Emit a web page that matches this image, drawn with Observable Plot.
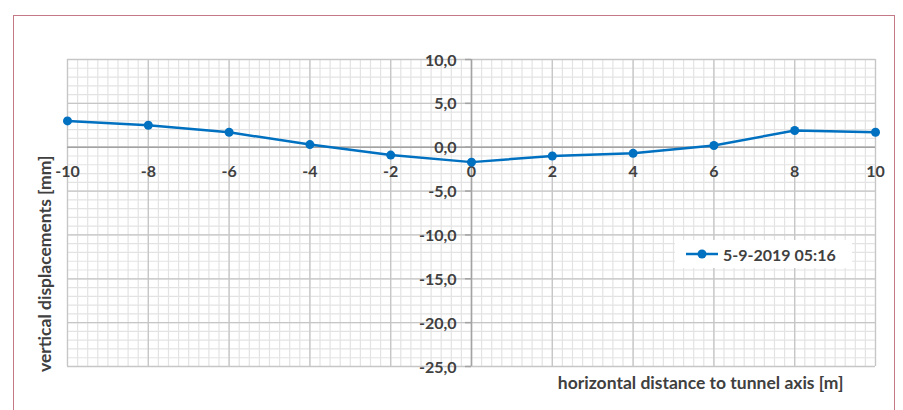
<!DOCTYPE html>
<html>
<head>
<meta charset="utf-8">
<script src="https://cdn.jsdelivr.net/npm/d3@7"></script>
<script src="https://cdn.jsdelivr.net/npm/@observablehq/plot@0.6"></script>
<style>
  html, body { margin: 0; padding: 0; background: #fff; }
  #wrap { position: relative; width: 903px; height: 410px; overflow: hidden; font-family: Lato, "Open Sans", sans-serif; }
  #frame { position: absolute; left: 13px; top: 15px; width: 882px; height: 420px; border: 1.5px solid #c47a86; box-sizing: border-box; pointer-events: none; }
  #legend { position: absolute; left: 675px; top: 240px; width: 177px; height: 28px; background: #fff; display: flex; align-items: center; font-weight: 700; font-size: 16px; color: #404040; }
  #legend svg { margin-left: 10px; margin-right: 4px; }
  #ytitle { position: absolute; left: 36px; top: 372px; transform-origin: 0 0; transform: rotate(-90deg); white-space: nowrap; font-weight: 700; font-size: 17.5px; color: #404040; line-height: 18px; }
  #chart { position: absolute; left: 0; top: 0; }
</style>
</head>
<body>
<div id="wrap">
  <div id="chart"></div>
  <div id="ytitle"></div>
  <div id="legend"><svg width="34" height="12"><line x1="1" y1="6" x2="33" y2="6" stroke="#0070c0" stroke-width="2.5"/><circle cx="17" cy="6" r="4.5" fill="#0070c0"/></svg><span id="legtext"></span></div>
  <div id="frame"></div>
</div>
<script>
const distances = [-10, -8, -6, -4, -2, 0, 2, 4, 6, 8, 10];
const displacements = [3.0, 2.5, 1.7, 0.3, -0.9, -1.7, -1.0, -0.7, 0.2, 1.9, 1.7];
const seriesName = "5-9-2019 05:16";
const xTicks = [-10, -8, -6, -4, -2, 0, 2, 4, 6, 8, 10];
const yTicks = [10, 5, 0, -5, -10, -15, -20, -25];
const xTitle = "horizontal distance to tunnel axis [m]";
const yTitle = "vertical displacements [mm]";

document.getElementById("ytitle").textContent = yTitle;
document.getElementById("legtext").textContent = seriesName;

const data = distances.map((x, i) => ({x, y: displacements[i]}));
const xMinor = d3.range(-10, 10.001, 0.25);
const yMinor = d3.range(-25, 10.001, 1);
const fmt = v => v.toFixed(1).replace(".", ",");
const textColor = "#404040";

const plot = Plot.plot({
  width: 903,
  height: 410,
  marginLeft: 67,
  marginRight: 28,
  marginTop: 59,
  marginBottom: 44,
  x: {type: "linear", domain: [-10, 10], axis: null},
  y: {type: "linear", domain: [-25, 10], axis: null},
  style: {fontFamily: "Lato, 'Open Sans', sans-serif", background: "transparent"},
  marks: [
    Plot.ruleX(xMinor, {stroke: "#e3e3e3", strokeWidth: 1.2}),
    Plot.ruleY(yMinor, {stroke: "#e3e3e3", strokeWidth: 1.2}),
    Plot.ruleX(xTicks, {stroke: "#c6c6c6", strokeWidth: 1.3}),
    Plot.ruleY(yTicks, {stroke: "#c6c6c6", strokeWidth: 1.3}),
    Plot.ruleY([0], {stroke: "#a3a3a3", strokeWidth: 1.5}),
    Plot.ruleX([0], {stroke: "#a3a3a3", strokeWidth: 1.5}),
    Plot.ruleY(yTicks, {y: d => d, x1: 0, x2: 0, insetLeft: -6, stroke: "#a3a3a3", strokeWidth: 1.5}),
    Plot.text(xTicks, {x: d => d, y: 0, text: d => String(d), dy: 25, fontWeight: 700, fontSize: 16, fill: textColor}),
    Plot.text(yTicks, {x: 0, y: d => d, text: d => fmt(d), dx: -15, dy: 1, textAnchor: "end", fontWeight: 700, fontSize: 16, fill: textColor}),
    Plot.line(data, {x: "x", y: "y", stroke: "#0070c0", strokeWidth: 2.5}),
    Plot.dot(data, {x: "x", y: "y", r: 4.5, fill: "#0070c0", stroke: "none"}),
    Plot.text([xTitle], {frameAnchor: "bottom-right", text: d => d, dx: -32, dy: 22, textAnchor: "end", fontWeight: 700, fontSize: 17.5, fill: textColor})
  ]
});
document.getElementById("chart").appendChild(plot);
</script>
</body>
</html>
